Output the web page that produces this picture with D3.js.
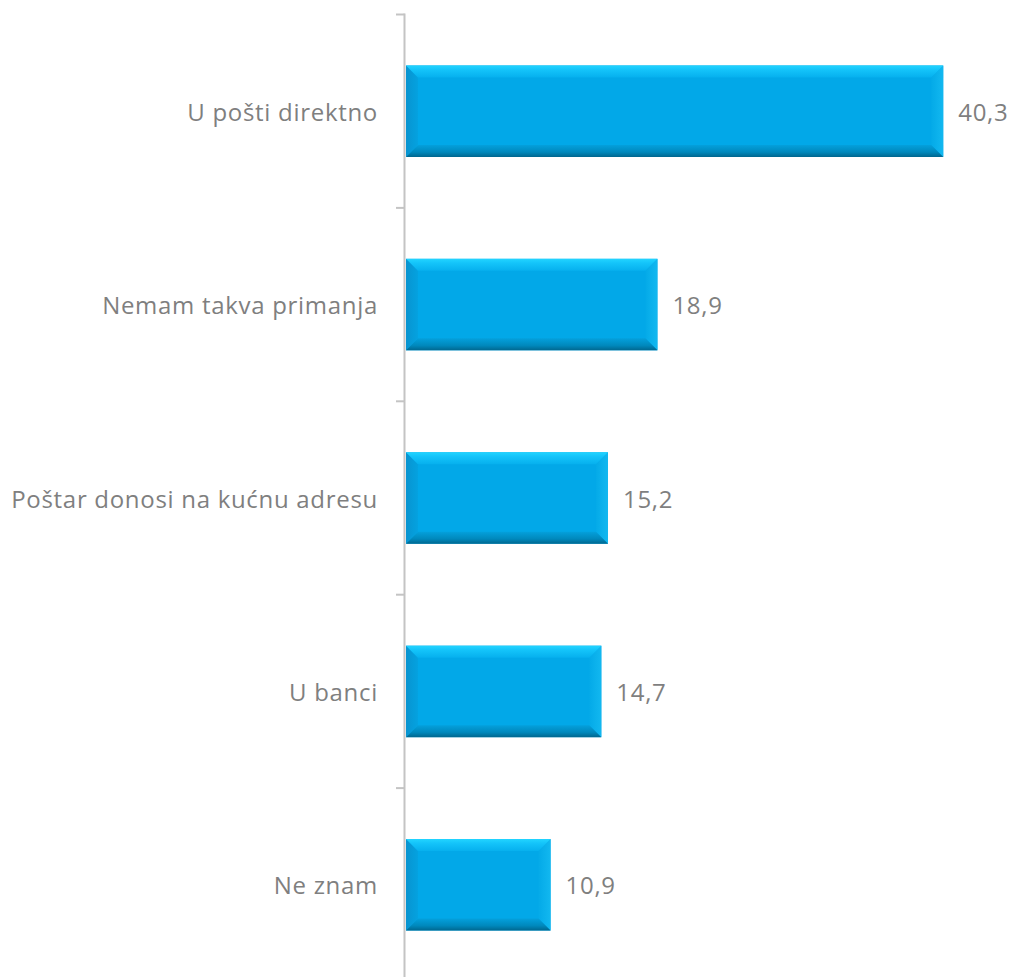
<!DOCTYPE html>
<html><head><meta charset="utf-8">
<script src="https://cdn.jsdelivr.net/npm/d3@7"></script>
<style>body{margin:0;background:#fff}svg{display:block}</style>
</head><body>
<script>
const categories = ["U pošti direktno","Nemam takva primanja","Poštar donosi na kućnu adresu","U banci","Ne znam"];
const values = [40.3, 18.9, 15.2, 14.7, 10.9];
const valueLabels = ["40,3","18,9","15,2","14,7","10,9"];

const W = 1016, H = 977;
const svg = d3.select("body").append("svg").attr("width", W).attr("height", H);

const x = d3.scaleLinear().domain([0, 45]).range([405, 1006]);
const y = d3.scaleBand().domain(categories).range([14.5, 981.5]).paddingInner(0.527).paddingOuter(0.2635);

const defs = svg.append("defs");
function lg(id, dir, stops){
  const g = defs.append("linearGradient").attr("id", id);
  if(dir==="v"){g.attr("x1",0).attr("y1",0).attr("x2",0).attr("y2",1);}
  else {g.attr("x1",0).attr("y1",0).attr("x2",1).attr("y2",0);}
  stops.forEach(s=>g.append("stop").attr("offset",s[0]).attr("stop-color",s[1]));
}
lg("gTop","v",[[0,"#22d4ff"],[0.35,"#14c4fa"],[1,"#06b0ee"]]);
lg("gBot","v",[[0,"#04a0dc"],[0.6,"#0088bc"],[1,"#00678f"]]);
lg("gLeft","h",[[0,"#0894d0"],[1,"#04a2e0"]]);
lg("gRight","h",[[0,"#04aae8"],[1,"#12b8f0"]]);

// axis line and ticks
const step = y.step();
const bounds = categories.map(c => y(c) - step*y.paddingInner()/2);
bounds.push(bounds[bounds.length-1] + step);
const ax = svg.append("g").attr("stroke","#c4c4c4").attr("stroke-width",2);
ax.append("line").attr("x1",x(0)-0.5).attr("x2",x(0)-0.5).attr("y1",bounds[0]-1).attr("y2",H);
ax.selectAll("line.tk").data(bounds).join("line").attr("class","tk")
  .attr("x1",x(0)-9).attr("x2",x(0)-0.5).attr("y1",d=>d).attr("y2",d=>d);

const b = 12;
const bars = svg.selectAll("g.bar").data(categories).join("g").attr("class","bar");
bars.each(function(c,i){
  const g = d3.select(this);
  const x0 = x(0)+1, x1 = x(values[i]), y0 = y(c), y1 = y(c)+y.bandwidth();
  const bb = Math.min(b, (x1-x0)/2);
  g.append("rect").attr("x",x0).attr("y",y0).attr("width",x1-x0).attr("height",y1-y0).attr("fill","#02a8e8");
  const poly = (pts, fill) => g.append("polygon").attr("points", pts.map(p=>p.join(",")).join(" ")).attr("fill", fill);
  poly([[x0,y0],[x0+bb,y0+bb],[x0+bb,y1-bb],[x0,y1]], "url(#gLeft)");
  poly([[x1,y0],[x1-bb,y0+bb],[x1-bb,y1-bb],[x1,y1]], "url(#gRight)");
  poly([[x0,y0],[x1,y0],[x1-bb,y0+bb],[x0+bb,y0+bb]], "url(#gTop)");
  poly([[x0,y1],[x1,y1],[x1-bb,y1-bb],[x0+bb,y1-bb]], "url(#gBot)");
});

const font = "'Open Sans', sans-serif";
svg.selectAll("text.cat").data(categories).join("text").attr("class","cat")
  .attr("x", 378).attr("y", d => y(d)+y.bandwidth()/2)
  .attr("text-anchor","end").attr("dominant-baseline","central")
  .attr("font-family",font).attr("font-size",24).attr("letter-spacing","0.7px").attr("fill","#7f7f7f")
  .text(d=>d);

svg.selectAll("text.val").data(categories).join("text").attr("class","val")
  .attr("x", (d,i) => x(values[i]) + 15).attr("y", d => y(d)+y.bandwidth()/2)
  .attr("dominant-baseline","central")
  .attr("font-family",font).attr("font-size",24).attr("letter-spacing","0.7px").attr("fill","#7f7f7f")
  .text((d,i)=>valueLabels[i]);
</script>
</body></html>
